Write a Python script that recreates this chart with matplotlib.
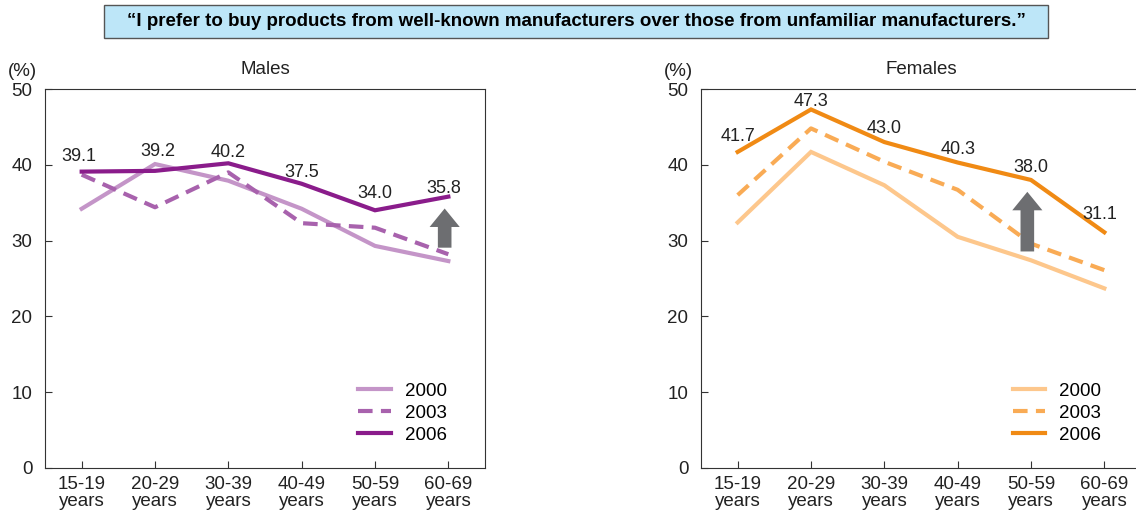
import matplotlib.pyplot as plt
from matplotlib.patches import Rectangle

plt.rcParams['font.family'] = ['Liberation Sans', 'DejaVu Sans']

ages = ['15-19\nyears', '20-29\nyears', '30-39\nyears', '40-49\nyears', '50-59\nyears', '60-69\nyears']
years = ['2000', '2003', '2006']

male_2000 = [34.2, 40.1, 37.9, 34.2, 29.3, 27.3]
male_2003 = [38.7, 34.4, 39.0, 32.3, 31.7, 28.2]
male_2006 = [39.1, 39.2, 40.2, 37.5, 34.0, 35.8]

female_2000 = [32.4, 41.7, 37.3, 30.5, 27.4, 23.7]
female_2003 = [36.0, 44.8, 40.4, 36.7, 29.6, 26.1]
female_2006 = [41.7, 47.3, 43.0, 40.3, 38.0, 31.1]

male_colors = ['#c495c8', '#a862ad', '#8a1c8b']
female_colors = ['#fdc78c', '#f9ab55', '#f08a14']

fig = plt.figure(figsize=(11.36, 5.15), dpi=100)

# title box
fig.patches.append(Rectangle((104 / 1136, 1 - 38 / 515), 944 / 1136, 33 / 515,
                             transform=fig.transFigure, facecolor='#bde6f8',
                             edgecolor='#555555', lw=1))
fig.text(576 / 1136, 1 - 21 / 515,
         '\u201cI prefer to buy products from well-known manufacturers over those from unfamiliar manufacturers.\u201d',
         ha='center', va='center', fontsize=13.5, fontweight='bold')


def panel(left, title, series, colors, arrow_i, arrow_y, label_offsets, leg_x):
    ax = fig.add_axes([left / 1136, 47 / 515, 440 / 1136, 379 / 515])
    x = list(range(len(ages)))
    styles = ['-', (0, (3.5, 2)), '-']
    for vals, c, ls, lab in zip(series, colors, styles, years):
        ax.plot(x, vals, color=c, lw=3, ls=ls, label=lab, solid_joinstyle='miter')
    for i, v in enumerate(series[2]):
        dx, dy = label_offsets[i]
        ax.annotate(f'{v:.1f}', (i, v), xytext=(dx, dy), textcoords='offset points',
                    ha='center', va='bottom', fontsize=13, color='#222222')
    # grey "up" arrow
    ax.annotate('', xy=(arrow_i - 0.05, arrow_y[1]), xytext=(arrow_i - 0.05, arrow_y[0]),
                arrowprops=dict(arrowstyle='simple,head_length=0.95,head_width=1.55,tail_width=0.7',
                                mutation_scale=14, color='#6d6e71', lw=0))
    ax.set_xlim(-0.5, 5.5)
    ax.set_ylim(0, 50)
    ax.set_yticks([0, 10, 20, 30, 40, 50])
    ax.set_xticks(x)
    ax.set_xticklabels(ages, linespacing=0.95)
    ax.tick_params(direction='in', labelsize=13.5, length=5, color='#333333', labelcolor='#222222')
    ax.tick_params(axis='y', pad=9)
    ax.tick_params(axis='x', pad=6)
    for s in ax.spines.values():
        s.set_color('#333333')
    ax.set_title(title, fontsize=13.5, pad=11, color='#222222')
    ax.text(-0.052, 1.025, '(%)', transform=ax.transAxes, fontsize=13.5, ha='center', va='bottom',
            color='#222222')
    ax.legend(loc='lower right', bbox_to_anchor=(leg_x, 0.03), frameon=False, fontsize=13.5,
              handlelength=1.75, handletextpad=0.75, labelspacing=0.25, borderpad=0.2)
    return ax


panel(45, 'Males', [male_2000, male_2003, male_2006], male_colors, 5, (28.7, 34.6),
      [(-2, 5), (2, 8), (0, 2), (0, 2), (0, 6), (-3, 0)], 0.943)
panel(701, 'Females', [female_2000, female_2003, female_2006], female_colors, 4, (28.2, 36.8),
      [(0, 5), (0, -0.5), (0, 3.5), (0, 3.5), (0, 3), (-3, 7)], 0.94)

fig.savefig('out.png', dpi=100)
